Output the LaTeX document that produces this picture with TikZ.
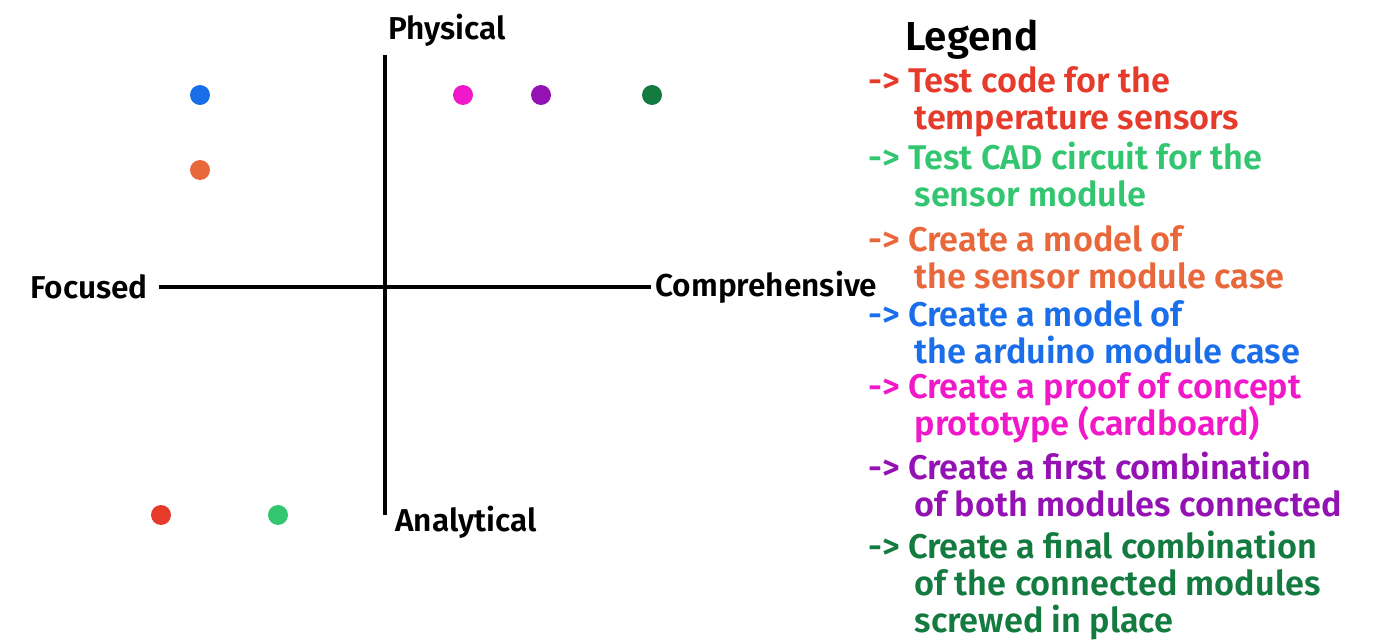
\documentclass[tikz,border=0pt]{standalone}
\usepackage{fontspec}
\setmainfont{Fira Sans}[BoldFont={Fira Sans SemiBold}]
\usepackage{tikz}

\definecolor{codered}{HTML}{E63A2B}
\definecolor{cadgreen}{HTML}{33C670}
\definecolor{caseorange}{HTML}{E8673B}
\definecolor{arduinoblue}{HTML}{1A6EEA}
\definecolor{protomagenta}{HTML}{F018C8}
\definecolor{firstpurple}{HTML}{9412B3}
\definecolor{finalgreen}{HTML}{137A40}

\tikzset{
    task/.style={circle,fill,minimum size=0.4cm,inner sep=0pt,outer sep=0pt},
    axis/.style={line width=2.2pt},
    axislabel/.style={font=\fontsize{18}{21}\selectfont\bfseries,inner sep=0pt},
    entry/.style={font=\fontsize{19.5}{21}\selectfont\bfseries,align=left,anchor=north west,inner sep=0pt}
}

\begin{document}
\begin{tikzpicture}[x=0.02cm,y=-0.02cm]
\useasboundingbox (0,0) rectangle (1373,642);

% axes and their labels
\node[axislabel,anchor=east] (focused) at (148,287) {Focused};
\node[axislabel,anchor=west] (compr) at (655,287) {Comprehensive};
\node[axislabel,anchor=west] (physical) at (388,30) {Physical};
\node[axislabel,anchor=west] (analytical) at (395,522) {Analytical};
\coordinate (top) at (385,55);
\coordinate (bottom) at (385,515);
\draw[axis] (top) -- (bottom);
\draw[axis,shorten <=6pt,shorten >=2pt] (focused) -- (compr);

% tasks
\node[task,fill=arduinoblue] (arduino) at (200,95) {};
\node[task,fill=caseorange] (sensorcase) at (200,170) {};
\node[task,fill=protomagenta] (proto) at (463,95) {};
\node[task,fill=firstpurple] (firstcomb) at (541,95) {};
\node[task,fill=finalgreen] (finalcomb) at (652,95) {};
\node[task,fill=codered] (testcode) at (161,515) {};
\node[task,fill=cadgreen] (testcad) at (278,515) {};

% legend
\node[font=\fontsize{23}{25}\selectfont\bfseries,anchor=west,inner sep=0pt] (legend) at (905,40) {Legend};
\node[entry,text=codered] (e1) at (868,66) {-> Test code for the\\\hspace*{1.35em}temperature sensors};
\node[entry,text=cadgreen] (e2) at (868,142) {-> Test CAD circuit for the\\\hspace*{1.35em}sensor module};
\node[entry,text=caseorange] (e3) at (868,225) {-> Create a model of\\\hspace*{1.35em}the sensor module case};
\node[entry,text=arduinoblue] (e4) at (868,300) {-> Create a model of\\\hspace*{1.35em}the arduino module case};
\node[entry,text=protomagenta] (e5) at (868,372) {-> Create a proof of concept\\\hspace*{1.35em}prototype (cardboard)};
\node[entry,text=firstpurple] (e6) at (868,452) {-> Create a first combination\\\hspace*{1.35em}of both modules connected};
\node[entry,text=finalgreen] (e7) at (868,531) {-> Create a final combination\\\hspace*{1.35em}of the connected modules\\\hspace*{1.35em}screwed in place};
\end{tikzpicture}
\end{document}
